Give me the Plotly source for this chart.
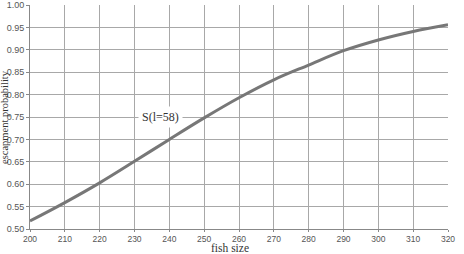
import plotly.graph_objects as go

fish_size = [200, 210, 220, 230, 240, 250, 260, 270, 280, 290, 300, 310, 320]
escapement = [0.518, 0.559, 0.603, 0.651, 0.700, 0.748, 0.793, 0.833, 0.866, 0.898, 0.922, 0.941, 0.956]
x_ticks = list(range(200, 321, 10))
y_ticks = [0.50, 0.55, 0.60, 0.65, 0.70, 0.75, 0.80, 0.85, 0.90, 0.95, 1.00]
label_text = "S(l=58)"
x_title = "fish size"
y_title = "escapment probability"

fig = go.Figure()
fig.add_trace(go.Scatter(x=fish_size, y=escapement, mode="lines", line=dict(color="#777777", width=3, shape="spline"), hoverinfo="skip"))

fig.add_annotation(x=244, y=0.75, text=label_text, showarrow=False, xanchor="right", yanchor="middle",
                   bgcolor="white", font=dict(family="Liberation Serif", size=12, color="#333333"), borderpad=3)
fig.add_annotation(x=257.5, xref="x", y=0, yref="paper", yshift=-26, text=x_title, showarrow=False,
                   xanchor="center", yanchor="bottom", font=dict(family="Liberation Serif", size=11.5, color="#333333"), borderpad=0)
fig.add_annotation(x=0, xref="paper", xshift=-26, y=0.75, yref="y", text=y_title, showarrow=False, textangle=-90,
                   xanchor="center", yanchor="middle", font=dict(family="Liberation Serif", size=10.5, color="#333333"), borderpad=0)

fig.update_layout(
    width=464, height=254, margin=dict(l=30, r=16, t=5, b=25),
    paper_bgcolor="white", plot_bgcolor="white", showlegend=False,
    xaxis=dict(range=[200, 320], tickvals=x_ticks, ticktext=[str(v) for v in x_ticks], automargin=False,
               showgrid=True, gridcolor="#a8a8a8", gridwidth=1, showline=True, linecolor="#888888", mirror=False,
               zeroline=False, ticks="outside", ticklen=2, tickcolor="#888888",
               tickfont=dict(family="Liberation Sans", size=8.5, color="#555555")),
    yaxis=dict(range=[0.5, 1.0], tickvals=y_ticks, ticktext=[f"{v:.2f}" for v in y_ticks], automargin=False,
               showgrid=True, gridcolor="#a8a8a8", gridwidth=1, showline=True, linecolor="#888888",
               zeroline=False, ticks="outside", ticklen=3, tickcolor="#888888",
               tickfont=dict(family="Liberation Sans", size=9, color="#555555")),
)
fig.write_html("out.html")
